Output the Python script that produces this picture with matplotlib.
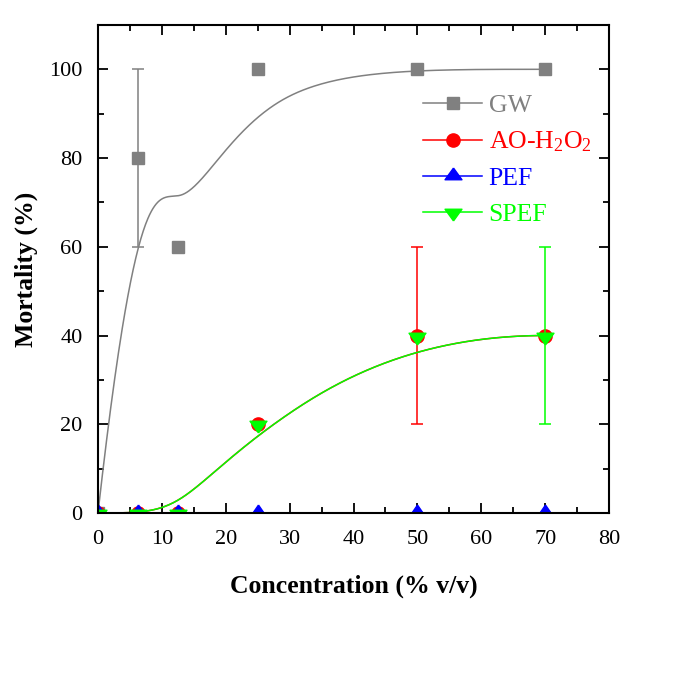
import numpy as np
import matplotlib
matplotlib.use("Agg")
import matplotlib.pyplot as plt
from matplotlib.lines import Line2D
from matplotlib.ticker import MultipleLocator

plt.rcParams['font.family'] = ['Liberation Serif', 'DejaVu Serif']
plt.rcParams['mathtext.default'] = 'regular'

# data
conc = [0, 6.25, 12.5, 25, 50, 70]
gw = [0, 80, 60, 100, 100, 100]
gw_err = [0, 20, 0, 0, 0, 0]
ao = [0, 0, 0, 20, 40, 40]
ao_err = [0, 0, 0, 0, 20, 0]
pef = [0, 0, 0, 0, 0, 0]
pef_err = [0, 0, 0, 0, 0, 0]
spef = [0, 0, 0, 20, 40, 40]
spef_err = [0, 0, 0, 0, 0, 20]
labels = ['GW', 'AO-H$_2$O$_2$', 'PEF', 'SPEF']


def bspline(xs, ys, n=400):
    """clamped cubic B-spline using the data points as control points"""
    pts = np.column_stack([xs, ys]).astype(float)
    m = len(pts)
    k = 3
    knots = np.concatenate([[0] * k, np.linspace(0, 1, m - k + 1), [1] * k])
    t = np.linspace(0, 1 - 1e-9, n)

    def basis(i, p, t):
        if p == 0:
            return ((knots[i] <= t) & (t < knots[i + 1])).astype(float)
        r = 0.0
        d1 = knots[i + p] - knots[i]
        d2 = knots[i + p + 1] - knots[i + 1]
        if d1 > 0:
            r = r + (t - knots[i]) / d1 * basis(i, p - 1, t)
        if d2 > 0:
            r = r + (knots[i + p + 1] - t) / d2 * basis(i + 1, p - 1, t)
        return r

    B = np.array([basis(i, k, t) for i in range(m)])
    curve = B.T @ pts
    return curve[:, 0], curve[:, 1]


# wide, flat triangles centred near their centroid (Origin style)
tri_up = [(0, 1), (-1, -0.385), (1, -0.385), (0, 1)]
tri_dn = [(0, -1), (-1, 0.385), (1, 0.385), (0, -1)]
# PEF sits on the x axis, Origin shows most of the triangle above it
tri_pef = [(0, 1), (-0.9, -0.3), (0.9, -0.3), (0, 1)]

fig = plt.figure(figsize=(6.73, 6.74), dpi=100)
ax = fig.add_axes([0.1456, 0.2389, 0.7594, 0.7241])

series = [
    (gw, gw_err, '#808080', 's', 's', 8.5),
    (ao, ao_err, '#ff0000', 'o', 'o', 9.5),
    (pef, pef_err, '#0000ff', tri_pef, tri_up, 12.2),
    (spef, spef_err, '#00ff00', tri_dn, tri_dn, 12.2),
]

handles = []
for (vals, err, col, mk, mk_leg, ms), name in zip(series, labels):
    cx, cy = bspline(conc, vals)
    ax.plot(cx, cy, color=col, lw=1.1)
    ax.errorbar(conc, vals, yerr=err, fmt='none', ecolor=col, elinewidth=1.1,
                capsize=4.5, capthick=1.1)
    ax.plot(conc, vals, ls='none', marker=mk, ms=ms, color=col, mec=col)
    handles.append(Line2D([], [], color=col, lw=1.1, marker=mk_leg, ms=ms, label=name))

ax.set_xlim(0, 80)
ax.set_ylim(0, 110)
ax.xaxis.set_major_locator(MultipleLocator(10))
ax.xaxis.set_minor_locator(MultipleLocator(5))
ax.set_yticks([0, 20, 40, 60, 80, 100])
ax.yaxis.set_minor_locator(MultipleLocator(10))
ax.tick_params(which='both', direction='in', top=True, right=True,
               labelsize=16, width=1.3)
ax.tick_params(which='major', length=7.5)
ax.tick_params(which='minor', length=4.5)
ax.tick_params(axis='x', which='major', pad=12)
ax.tick_params(axis='y', which='major', pad=11)
for s in ax.spines.values():
    s.set_linewidth(1.5)

ax.set_xlabel('Concentration (% v/v)', fontsize=18.5, fontweight='bold', labelpad=19)
ax.set_ylabel('Mortality (%)', fontsize=18.5, fontweight='bold', labelpad=8)

ax.legend(handles=handles, loc='upper left', bbox_to_anchor=(0.636, 0.859),
          frameon=False, borderpad=0, borderaxespad=0,
          fontsize=18.5, handlelength=2.3, labelcolor='linecolor',
          handletextpad=0.25, labelspacing=0.5)

fig.savefig('out.png', dpi=100)
